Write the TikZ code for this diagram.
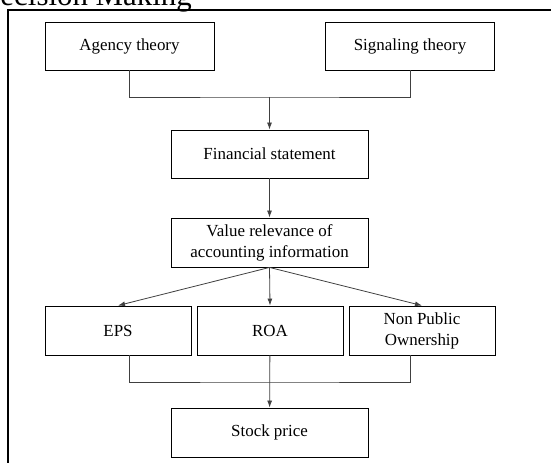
\documentclass[tikz,border=0pt]{standalone}
\usepackage{fontspec}
\setmainfont{Liberation Serif}
\usepackage{tikz}
\usetikzlibrary{positioning,arrows.meta}

\tikzset{
  box/.style={draw,line width=0.9bp,minimum width=197bp,minimum height=48bp,inner sep=0pt,align=center,font=\fontsize{17}{21}\selectfont},
  smallbox/.style={box,minimum width=146bp},
  theorybox/.style={box,minimum width=169bp},
  link/.style={line width=0.8bp,draw=black!75}
}

\begin{document}
\begin{tikzpicture}[x=1bp,y=-1bp,->,>={Latex[length=7bp,width=5bp]}]
    \useasboundingbox (0,0) rectangle (551,463);
    \clip (0,0) rectangle (551,463);
    % outer frame and cut title
    \coordinate (frametop) at (560,10);
    \coordinate (framebot) at (8,470);
    \draw[-,line width=1.6bp] (framebot) |- (frametop);
    \node[anchor=base west,inner sep=0pt,font=\fontsize{31}{34}\selectfont] (title) at (-22,5.5) {Decision Making};
    % nodes
    \node[theorybox] (agency) at (129.5,46) {Agency theory};
    \node[theorybox] (signal) at (410,46) {Signaling theory};
    \node[box] (fin) at (269.5,154) {Financial statement};
    \node[box,minimum height=49bp] (value) at (269.5,242.5) {Value relevance of\\accounting information};
    \node[smallbox,minimum height=49bp] (eps) at (118,330.5) {EPS};
    \node[smallbox,minimum height=49bp] (roa) at (270,330.5) {ROA};
    \node[smallbox,minimum height=49bp] (npo) at (422,330.5) {Non Public\\Ownership};
    \node[box,minimum height=49bp] (stock) at (269.5,432.5) {Stock price};
    \coordinate (top join) at (269.5,97);
    \coordinate (bottom join) at (269.5,382);
    % connectors
    \draw[link,-] (agency.south) |- (top join) -| (signal.south);
    \draw[link] (top join) -- (fin.north);
    \draw[link] (fin) -- (value);
    \draw[link] (value.south) -- (eps.north);
    \draw[link] (value.south) -- (roa.north);
    \draw[link] (value.south) -- (npo.north);
    \draw[link,-] ([xshift=11bp]eps.south) |- (bottom join) -| ([xshift=-12bp]npo.south);
    \draw[link] (roa) -- (stock);
\end{tikzpicture}
\end{document}
